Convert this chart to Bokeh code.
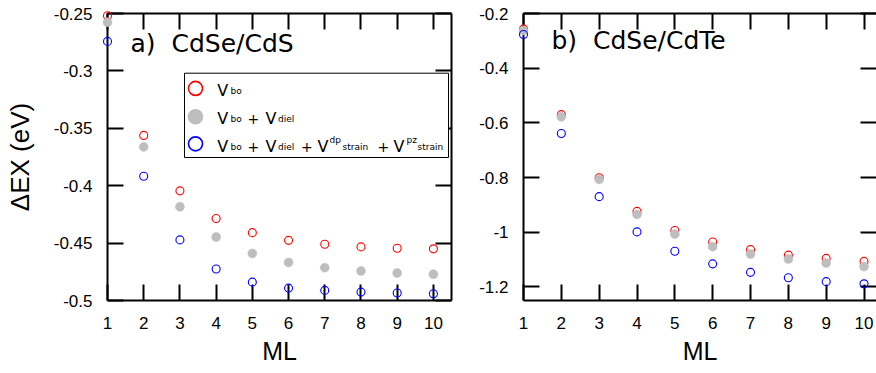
from bokeh.plotting import figure
from bokeh.layouts import row
from bokeh.models import FixedTicker, LinearAxis, Label, BoxAnnotation, Range1d
from bokeh.embed import file_html
from bokeh.resources import INLINE

# ---------------- data ----------------
ml = [1, 2, 3, 4, 5, 6, 7, 8, 9, 10]

cds_vbo = [-0.2519, -0.3562, -0.4045, -0.4286, -0.4409, -0.4476, -0.4510, -0.4533, -0.4545, -0.4550]
cds_diel = [-0.2576, -0.3662, -0.4183, -0.4447, -0.4590, -0.4668, -0.4714, -0.4743, -0.4760, -0.4771]
cds_strain = [-0.2743, -0.3918, -0.4472, -0.4726, -0.4840, -0.4892, -0.4912, -0.4927, -0.4935, -0.4941]

cdte_vbo = [-0.257, -0.570, -0.801, -0.924, -0.994, -1.036, -1.064, -1.084, -1.096, -1.107]
cdte_diel = [-0.262, -0.578, -0.807, -0.935, -1.007, -1.053, -1.080, -1.098, -1.113, -1.126]
cdte_strain = [-0.277, -0.639, -0.870, -0.999, -1.070, -1.116, -1.147, -1.167, -1.181, -1.189]

left_yticks = [-0.5, -0.45, -0.4, -0.35, -0.3, -0.25]
left_ylabels = ["-0.5", "-0.45", "-0.4", "-0.35", "-0.3", "-0.25"]
right_yticks = [-1.2, -1.0, -0.8, -0.6, -0.4, -0.2]
right_ylabels = ["-1.2", "-1", "-0.8", "-0.6", "-0.4", "-0.2"]

RED = "#ff0000"
GRAY = "#bebebe"
BLUE = "#0000ff"
TICK_FONT = "Liberation Sans"


def style_axis(ax, labels=True, line=True):
    ax.axis_line_color = "black" if line else None
    ax.axis_line_width = 2
    ax.major_tick_in = 16
    ax.major_tick_out = 0
    ax.major_tick_line_width = 2
    ax.major_tick_line_color = "black"
    ax.minor_tick_line_color = None
    if labels:
        ax.major_label_text_font = TICK_FONT
        ax.major_label_text_font_size = "17px"
        ax.major_label_text_color = "black"
    else:
        ax.major_label_text_color = None
        ax.major_label_text_font_size = "1px"
        ax.major_label_standoff = 0


def make_panel(width, mbl, mbr, mbt, mbb, xr, yr, yticks, ylabels, ylabel, right_line):
    p = figure(width=width, height=373, x_range=Range1d(*xr), y_range=Range1d(*yr),
               output_backend="svg", toolbar_location=None,
               min_border_left=mbl, min_border_right=mbr,
               min_border_top=mbt, min_border_bottom=mbb)
    p.grid.visible = False
    p.outline_line_color = None
    p.background_fill_color = "white"
    p.border_fill_color = "white"

    xa = p.xaxis[0]
    xa.ticker = FixedTicker(ticks=ml)
    style_axis(xa)
    xa.major_label_standoff = 16
    xa.axis_label = "ML"
    xa.axis_label_text_font = TICK_FONT
    xa.axis_label_text_font_size = "25px"
    xa.axis_label_text_font_style = "normal"
    xa.axis_label_text_color = "black"
    xa.axis_label_standoff = 5

    ya = p.yaxis[0]
    ya.ticker = FixedTicker(ticks=yticks)
    ya.major_label_overrides = dict(zip(yticks, ylabels))
    style_axis(ya)
    ya.major_label_standoff = 15
    if ylabel:
        ya.axis_label = ylabel
        ya.axis_label_text_font = TICK_FONT
        ya.axis_label_text_font_size = "26px"
        ya.axis_label_text_font_style = "normal"
        ya.axis_label_text_color = "black"
        ya.axis_label_standoff = 16

    top = LinearAxis(ticker=FixedTicker(ticks=ml))
    style_axis(top, labels=False)
    p.add_layout(top, "above")
    rt = LinearAxis(ticker=FixedTicker(ticks=yticks))
    style_axis(rt, labels=False, line=right_line)
    p.add_layout(rt, "right")
    return p


def draw_series(p, y1, y2, y3):
    p.scatter(ml, y1, marker="circle", size=8, fill_color=None, line_color=RED,
              line_width=1.1, level="overlay")
    p.scatter(ml, y2, marker="circle", size=9, fill_color=GRAY, line_color=GRAY,
              line_width=0.5, level="overlay")
    p.scatter(ml, y3, marker="circle", size=8, fill_color=None, line_color=BLUE,
              line_width=1.1, level="overlay")


# ---------------- panel a ----------------
p1 = make_panel(465, 107, 14, 10, 73, (1, 10.5), (-0.5, -0.25),
                left_yticks, left_ylabels, "ΔEX (eV)", True)
draw_series(p1, cds_vbo, cds_diel, cds_strain)
p1.add_layout(Label(x=23, y=243, x_units="screen", y_units="screen",
                    text="a)\u00a0 CdSe/CdS", text_font="DejaVu Sans",
                    text_font_size="25px", text_color="black"))

# legend box (screen units, relative to frame, frame height 290)
FH = 290
p1.add_layout(BoxAnnotation(left=77, right=341, top=FH - 62.7, bottom=FH - 147,
                            left_units="screen", right_units="screen",
                            top_units="screen", bottom_units="screen",
                            fill_color="white", fill_alpha=1.0,
                            line_color="black", line_width=1, line_alpha=1.0,
                            level="annotation"))

# legend samples: pixel layout converted into panel-a data coordinates
x0, x1 = 1, 10.5
y0, y1 = -0.5, -0.25
FW = 344


def px_to_data(px, py):
    return (x0 + px / FW * (x1 - x0), y1 - py / FH * (y1 - y0))


legend_rows = [(RED, None, 75.7), (GRAY, GRAY, 104.3), (BLUE, None, 131.7)]
for col, fill, py in legend_rows:
    lx, ly = px_to_data(88, py)
    p1.scatter([lx], [ly], marker="circle", size=14, line_color=col,
               fill_color=fill, line_width=1.6, level="overlay")

# legend text pieces: (text, x, baseline, size)
B1, B2, B3 = 80, 108.3, 136
pieces = [
    ("V", 109.7, B1, 16), ("bo", 123, B1, 9),
    ("V", 109.7, B2, 16), ("bo", 123, B2, 9), ("+", 140, B2, 14),
    ("V", 158, B2, 16), ("diel", 170.5, B2, 9),
    ("V", 109.7, B3, 16), ("bo", 123, B3, 9), ("+", 140, B3, 14),
    ("V", 158, B3, 16), ("diel", 170.5, B3, 9), ("+", 193.5, B3, 14),
    ("V", 210, B3, 16), ("dp", 222, B3 - 7, 9), ("strain", 235, B3, 9),
    ("+", 270, B3, 14),
    ("V", 286, B3, 16), ("pz", 299, B3 - 7, 9), ("strain", 310, B3, 9),
]
for t, px, base, fs in pieces:
    p1.add_layout(Label(x=px, y=FH - base, x_units="screen", y_units="screen",
                        text=t, text_font="DejaVu Sans",
                        text_font_size=f"{fs}px", text_color="black",
                        text_baseline="alphabetic", level="overlay"))

# ---------------- panel b ----------------
p2 = make_panel(411, 58, 0, 13, 70, (1, 10.33), (-1.25, -0.2),
                right_yticks, right_ylabels, None, False)
draw_series(p2, cdte_vbo, cdte_diel, cdte_strain)
p2.add_layout(Label(x=28, y=246, x_units="screen", y_units="screen",
                    text="b)\u00a0 CdSe/CdTe", text_font="DejaVu Sans",
                    text_font_size="25px", text_color="black"))

layout = row(p1, p2)
open("out.html", "w").write(file_html(layout, INLINE))
